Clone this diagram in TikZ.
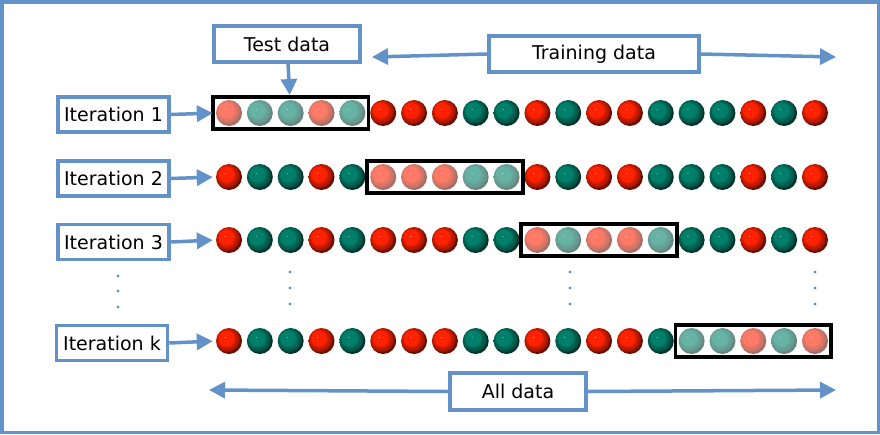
\documentclass[tikz,border=0pt]{standalone}
\usepackage{fontspec}
\setmainfont{DejaVu Sans}
\usetikzlibrary{arrows.meta,fit}
\pgfdeclareradialshading[kball]{glossy}{\pgfpoint{-8bp}{8bp}}{%
  color(0bp)=(kball!30!white); color(1.5bp)=(kball); color(14bp)=(kball);
  color(17bp)=(kball!80!black); color(23bp)=(kball!65!black);
  color(25bp)=(kball!40!black); color(50bp)=(kball!40!black)}

\begin{document}
\begin{tikzpicture}[x=1pt,y=-1pt,
  lbl/.style={draw=kBlue,line width=3.5pt,fill=white,minimum width=111pt,
              minimum height=35pt,inner sep=0pt,font=\fontsize{19}{21}\selectfont},
  ball/.style={circle,minimum size=26pt,inner sep=0pt,
               /utils/exec={\colorlet{kball}{#1}},shading=glossy},
  testbox/.style={draw=black,line width=3.5pt,inner sep=3pt},
  arr/.style={draw=kBlue,line width=3.5pt,-{Triangle[length=16pt,width=16pt]}}]
  \definecolor{kBlue}{RGB}{99,146,201}
  \definecolor{kRed}{RGB}{255,34,0}
  \definecolor{kTeal}{RGB}{0,128,106}

  \useasboundingbox (0,0) rectangle (880,434);
  \draw[kBlue,line width=3.5pt] (1.75,1.75) rectangle (878.25,432.25);

  \foreach \r/\y/\t in {1/113/1, 2/177/6, 3/240/11, k/341/16}
  {
    \foreach \i/\c in { 1/kRed,2/kTeal,3/kTeal,4/kRed,5/kTeal,
                        6/kRed,7/kRed,8/kRed,9/kTeal,10/kTeal,
                        11/kRed,12/kTeal,13/kRed,14/kRed,15/kTeal,
                        16/kTeal,17/kTeal,18/kRed,19/kTeal,20/kRed}
    {
      \pgfmathsetmacro\op{(\i>=\t && \i<=\t+4) ? 0.6 : 1}
      \node[ball=\c,opacity=\op] (b-\r-\i) at ({229+(\i-1)*30.84},\y) {};
    }
  }

  \node[testbox,fit=(b-1-1)(b-1-5)] (tb1) {};
  \node[testbox,fit=(b-2-6)(b-2-10)] (tb2) {};
  \node[testbox,fit=(b-3-11)(b-3-15)] (tb3) {};
  \node[testbox,fit=(b-k-16)(b-k-20)] (tbk) {};

  \node[lbl] (it1) at (113.5,114.5) {Iteration 1};
  \node[lbl] (it2) at (113.5,178.5) {Iteration 2};
  \node[lbl] (it3) at (113.5,242) {Iteration 3};
  \node[lbl] (itk) at (112,343) {Iteration k};

  \foreach \r in {1,2,3,k}
    \draw[arr,shorten >=3pt] (it\r.east) -- (b-\r-1.west);

  \node[lbl,minimum width=146pt,minimum height=36pt] (test) at (287,44) {Test data};
  \draw[arr] (test) -- (tb1);

  \node[lbl,minimum width=210pt,minimum height=36pt] (train) at (594,54) {Training data};
  \coordinate (trL) at (372,57);
  \coordinate (trR) at (836,57);
  \draw[arr] (train.west) -- (trL);
  \draw[arr] (train.east) -- (trR);

  \node[lbl,minimum width=136pt,minimum height=37pt] (all) at (518,391.5) {All data};
  \coordinate (allL) at (209,390);
  \coordinate (allR) at (836,390);
  \draw[arr] (all.west) -- (allL);
  \draw[arr] (all.east) -- (allR);

  \foreach \x/\y in {118/276,118/291,118/307,
                     290/272,290/288,290/304,
                     570/272,570/288,570/304,
                     815/272,815/288,815/304}
    \fill[kBlue] (\x,\y) circle (1.6);
\end{tikzpicture}
\end{document}
